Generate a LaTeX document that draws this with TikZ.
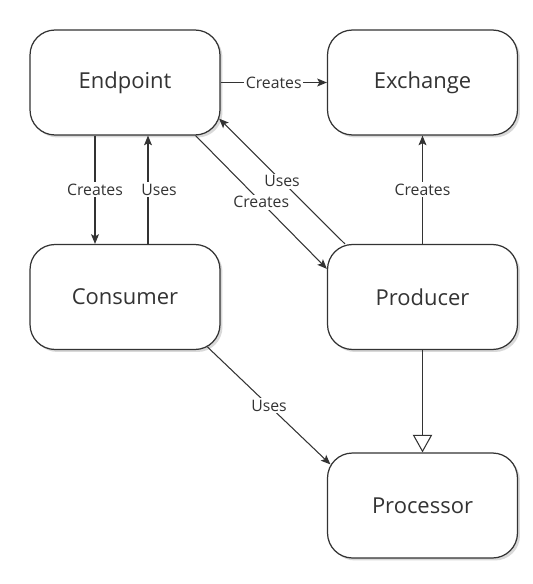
\documentclass[tikz,border=0pt]{standalone}
\usepackage{fontspec}
\setmainfont{Open Sans}
\usetikzlibrary{arrows.meta,shadows}
\definecolor{ink}{HTML}{333333}

\begin{document}
\begin{tikzpicture}[x=0.02cm,y=-0.02cm,block/.style={shape=rectangle,draw=ink,line width=0.7pt,rounded corners=0.5cm,minimum width=3.8cm,minimum height=2.1cm,fill=white,text=ink,font=\fontsize{12.5}{14}\selectfont,drop shadow={shadow xshift=0.05cm,shadow yshift=-0.05cm,fill=black!25,opacity=0.6}},link/.style={draw=ink,line width=0.6pt,-{Stealth[length=5.5pt,width=4.5pt,inset=1.2pt]}},isa/.style={draw=ink,line width=0.6pt,-{Triangle[open,length=10pt,width=11pt,fill=white]}},tag/.style={fill=white,inner sep=1pt,text=ink,font=\fontsize{9}{10}\selectfont}]
\def\xl{125};
\def\xr{422.5};
\def\ya{82.5};
\def\yb{297};
\def\yc{505.5};

\useasboundingbox (0,0) rectangle (533,584);

\node[block] (endpoint) at (\xl,\ya) {Endpoint};
\node[block] (exchange) at (\xr,\ya) {Exchange};
\node[block] (consumer) at (\xl,\yb) {Consumer};
\node[block] (producer) at (\xr,\yb) {Producer};
\node[block] (processor) at (\xr,\yc) {Processor};

\draw[link] (endpoint) -- node[tag] {Creates} (exchange);
\draw[link] ([xshift=-0.6cm]endpoint.south) -- node[tag] {Creates} ([xshift=-0.6cm]consumer.north);
\draw[link] ([xshift=0.46cm]consumer.north) -- node[tag,xshift=0.22cm] {Uses} ([xshift=0.46cm]endpoint.south);
\draw[link] ([xshift=-0.5cm]endpoint.south east) -- node[tag] {Creates} ([yshift=-0.5cm]producer.north west);
\draw[link] ([xshift=0.36cm]producer.north west) -- node[tag] {Uses} ([xshift=-0.03cm,yshift=0.34cm]endpoint.south east);
\draw[link] (producer) -- node[tag] {Creates} (exchange);
\draw[link] ([xshift=-0.26cm,yshift=0.06cm]consumer.south east) -- node[tag] {Uses} ([xshift=0.07cm,yshift=-0.24cm]processor.north west);
\draw[isa] (producer) -- (processor);
\end{tikzpicture}
\end{document}
